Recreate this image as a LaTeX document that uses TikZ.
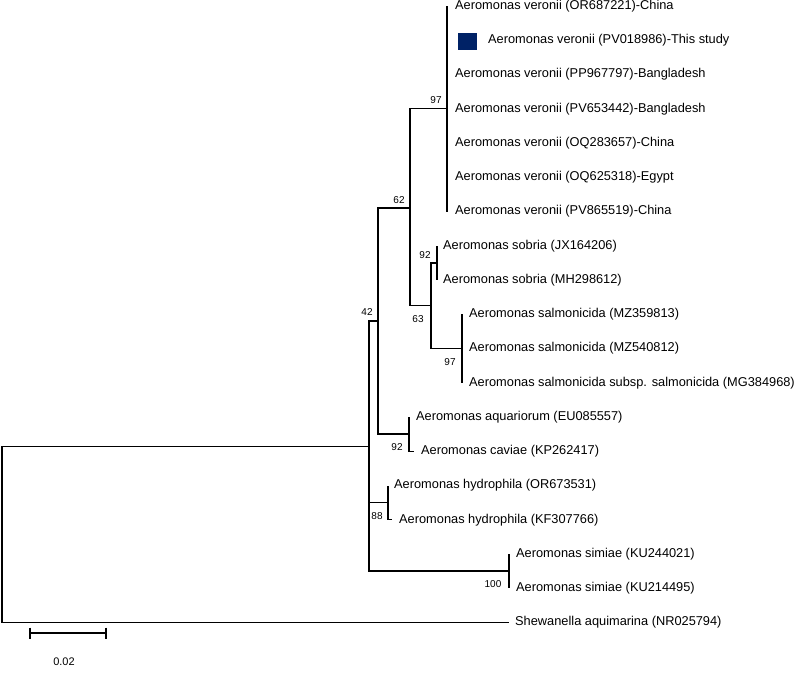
\documentclass[tikz,border=0pt]{standalone}
\usepackage{fontspec}
\setmainfont{Liberation Sans}
\definecolor{navysq}{RGB}{0,34,102}
\begin{document}
\begin{tikzpicture}[x=1pt,y=-1pt,
  branch/.style={draw=black,line width=1.25pt},
  leaf/.style={anchor=west,inner sep=0pt,xshift=7pt,font=\fontsize{12.8}{15}\selectfont},
  boot/.style={inner sep=0pt,font=\fontsize{10}{12}\selectfont},
  scalelbl/.style={inner sep=0pt,font=\fontsize{11}{13}\selectfont}]
\useasboundingbox (0,0) rectangle (794,674);
% internal nodes
\coordinate (root) at (2,535);
\coordinate (n0) at (369,446.5);
\coordinate (n42) at (378,321);
\coordinate (n62) at (410,208);
\coordinate (nv) at (447,108.75);
\coordinate (n63) at (431,305.5);
\coordinate (ns) at (437,263);
\coordinate (nsal) at (462,348.5);
\coordinate (na) at (409,434);
\coordinate (nh) at (388,502.5);
\coordinate (nsim) at (509,571);
% leaf tips
\coordinate (t1) at (447,6);
\coordinate (t2) at (447,40.25);
\coordinate (t3) at (447,74.5);
\coordinate (t4) at (447,108.75);
\coordinate (t5) at (447,143);
\coordinate (t6) at (447,177.25);
\coordinate (t7) at (447,211.5);
\coordinate (t8) at (437,245.75);
\coordinate (t9) at (437,280);
\coordinate (t10) at (462,314.25);
\coordinate (t11) at (462,348.5);
\coordinate (t12) at (462,382.75);
\coordinate (t13) at (409,417);
\coordinate (t14) at (414,451.25);
\coordinate (t15) at (388,485.5);
\coordinate (t16) at (392,519.75);
\coordinate (t17) at (509,554);
\coordinate (t18) at (509,588.25);
\coordinate (t19) at (509,622.5);
% branches
\draw[branch] (root) |- (n0);
\draw[branch] (root) |- (t19);
\draw[branch] (n0) |- (n42);
\draw[branch] (n0) |- (nh);
\draw[branch] (n0) |- (nsim);
\draw[branch] (n42) |- (n62);
\draw[branch] (n42) |- (na);
\draw[branch] (n62) |- (nv);
\draw[branch] (n62) |- (n63);
\draw[branch] (n63) |- (ns);
\draw[branch] (n63) |- (nsal);
\draw[branch] (nv) |- (t1);
\draw[branch] (nv) |- (t7);
\draw[branch] (ns) |- (t8);
\draw[branch] (ns) |- (t9);
\draw[branch] (nsal) |- (t10);
\draw[branch] (nsal) |- (t12);
\draw[branch] (na) |- (t13);
\draw[branch] (na) |- (t14);
\draw[branch] (nh) |- (t15);
\draw[branch] (nh) |- (t16);
\draw[branch] (nsim) |- (t17);
\draw[branch] (nsim) |- (t18);
% leaves
\node[leaf,xshift=1pt] (L1) at (t1) {Aeromonas veronii (OR687221)-China};
\node[fill=navysq,minimum width=19pt,minimum height=17pt,inner sep=0pt] (sq) at (467.5,41.5) {};
\node[leaf,xshift=34pt] (L2) at (t2) {Aeromonas veronii (PV018986)-This study};
\node[leaf,xshift=1pt] (L3) at (t3) {Aeromonas veronii (PP967797)-Bangladesh};
\node[leaf,xshift=1pt] (L4) at (t4) {Aeromonas veronii (PV653442)-Bangladesh};
\node[leaf,xshift=1pt] (L5) at (t5) {Aeromonas veronii (OQ283657)-China};
\node[leaf,xshift=1pt] (L6) at (t6) {Aeromonas veronii (OQ625318)-Egypt};
\node[leaf,xshift=1pt] (L7) at (t7) {Aeromonas veronii (PV865519)-China};
\node[leaf,xshift=-1pt] (L8) at (t8) {Aeromonas sobria (JX164206)};
\node[leaf,xshift=-1pt] (L9) at (t9) {Aeromonas sobria (MH298612)};
\node[leaf] (L10) at (t10) {Aeromonas salmonicida (MZ359813)};
\node[leaf] (L11) at (t11) {Aeromonas salmonicida (MZ540812)};
\node[leaf] (L12) at (t12) {Aeromonas salmonicida subsp. salmonicida (MG384968)};
\node[leaf] (L13) at (t13) {Aeromonas aquariorum (EU085557)};
\node[leaf] (L14) at (t14) {Aeromonas caviae (KP262417)};
\node[leaf,xshift=-1pt] (L15) at (t15) {Aeromonas hydrophila (OR673531)};
\node[leaf] (L16) at (t16) {Aeromonas hydrophila (KF307766)};
\node[leaf] (L17) at (t17) {Aeromonas simiae (KU244021)};
\node[leaf] (L18) at (t18) {Aeromonas simiae (KU214495)};
\node[leaf,xshift=-1pt] (L19) at (t19) {Shewanella aquimarina (NR025794)};
% bootstrap values
\node[boot] (b97v) at (436,100) {97};
\node[boot] (b62) at (399,200) {62};
\node[boot] (b42) at (367,312) {42};
\node[boot] (b92s) at (425,255) {92};
\node[boot] (b63) at (418,319) {63};
\node[boot] (b97s) at (450,362) {97};
\node[boot] (b92a) at (397,447) {92};
\node[boot] (b88) at (377,516) {88};
\node[boot] (b100) at (493,584) {100};
% scale bar
\coordinate (sbL) at (30,633);
\coordinate (sbR) at (106,633);
\draw[branch] (sbL) -- (sbR);
\draw[branch] ([yshift=5.5pt]sbL) -- ([yshift=-5.5pt]sbL);
\draw[branch] ([yshift=5.5pt]sbR) -- ([yshift=-5.5pt]sbR);
\node[scalelbl] (sblbl) at (64,662) {0.02};
\end{tikzpicture}
\end{document}
